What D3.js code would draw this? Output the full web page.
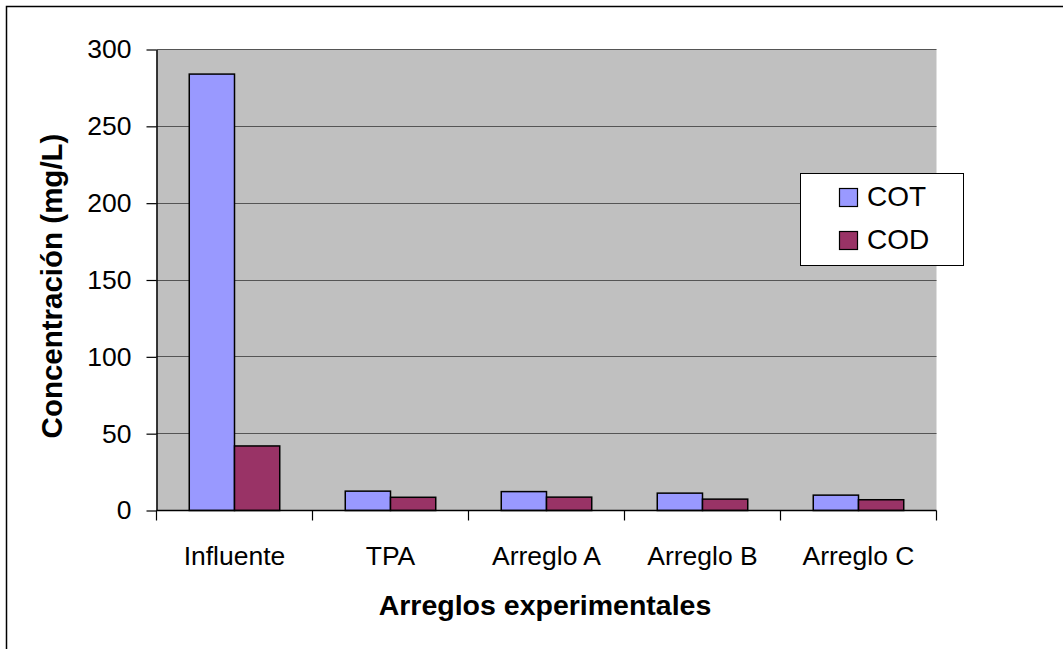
<!DOCTYPE html>
<html>
<head>
<meta charset="utf-8">
<script src="https://cdn.jsdelivr.net/npm/d3@7"></script>
<style>
  body { margin: 0; background: white; }
  svg text { font-family: "Liberation Sans", Arial, sans-serif; }
</style>
</head>
<body>
<script>
var categories = ["Influente", "TPA", "Arreglo A", "Arreglo B", "Arreglo C"];
var seriesNames = ["COT", "COD"];
var cot = [284, 12.6, 12.3, 11.3, 10];
var cod = [42, 8.6, 8.7, 7.4, 7];
var yTicks = [0, 50, 100, 150, 200, 250, 300];
var colors = ["#9999ff", "#993366"];

var width = 1063, height = 649;
var margin = { top: 49.5, right: 126.5, bottom: 138.5, left: 156.5 };
var innerW = width - margin.left - margin.right;
var innerH = height - margin.top - margin.bottom;

var svg = d3.select("body").append("svg")
    .attr("width", width)
    .attr("height", height);

// outer frame
svg.append("rect")
    .attr("x", 6.5).attr("y", 6.5)
    .attr("width", width).attr("height", height)
    .attr("fill", "white")
    .attr("stroke", "black")
    .attr("stroke-width", 1.5);

var g = svg.append("g")
    .attr("transform", "translate(" + margin.left + "," + margin.top + ")");

var x = d3.scaleBand()
    .domain(categories)
    .range([0, innerW])
    .paddingInner(0.42)
    .paddingOuter(0.21);

var x1 = d3.scaleBand()
    .domain(seriesNames)
    .range([0, x.bandwidth()]);

var y = d3.scaleLinear()
    .domain([0, 300])
    .range([innerH, 0]);

g.append("rect")
    .attr("width", innerW)
    .attr("height", innerH)
    .attr("fill", "#c0c0c0");

// gridlines
g.selectAll(".grid")
    .data(yTicks.filter(function(d) { return d > 0; }))
    .enter().append("line")
    .attr("x1", 0).attr("x2", innerW)
    .attr("y1", function(d) { return Math.round(y(d)); })
    .attr("y2", function(d) { return Math.round(y(d)); })
    .attr("stroke", "#555")
    .attr("stroke-width", 1.2);

// bars
var rows = categories.map(function(c, i) {
  return { cat: c, vals: [{ s: "COT", v: cot[i] }, { s: "COD", v: cod[i] }] };
});

var groups = g.selectAll(".grp")
    .data(rows)
    .enter().append("g")
    .attr("transform", function(d) { return "translate(" + x(d.cat) + ",0)"; });

groups.selectAll("rect")
    .data(function(d) { return d.vals; })
    .enter().append("rect")
    .attr("x", function(d) { return x1(d.s); })
    .attr("y", function(d) { return y(d.v); })
    .attr("width", x1.bandwidth())
    .attr("height", function(d) { return innerH - y(d.v); })
    .attr("fill", function(d, i) { return colors[i]; })
    .attr("stroke", "black")
    .attr("stroke-width", 1.5);

// y axis
var yAxis = g.append("g")
    .call(d3.axisLeft(y).tickValues(yTicks).tickSize(10).tickSizeOuter(0).tickPadding(15));
yAxis.attr("font-family", null).attr("font-size", null);
yAxis.select(".domain").attr("stroke", "black").attr("stroke-width", 1.5);
yAxis.selectAll("line").attr("stroke", "black").attr("stroke-width", 1.2);
yAxis.selectAll("text").style("font-size", "26.5px").attr("fill", "black");

// x axis with ticks at category boundaries
var xAxisG = g.append("g").attr("transform", "translate(0," + innerH + ")");
xAxisG.append("line")
    .attr("x1", 0).attr("x2", innerW)
    .attr("stroke", "black").attr("stroke-width", 1.5);
var step = innerW / categories.length;
xAxisG.selectAll(".xt")
    .data(d3.range(categories.length + 1))
    .enter().append("line")
    .attr("x1", function(d) { return Math.round(d * step); })
    .attr("x2", function(d) { return Math.round(d * step); })
    .attr("y1", 0).attr("y2", 10)
    .attr("stroke", "black").attr("stroke-width", 1.2);
xAxisG.selectAll(".xl")
    .data(categories)
    .enter().append("text")
    .attr("x", function(d) { return x(d) + x.bandwidth() / 2; })
    .attr("y", 54)
    .attr("text-anchor", "middle")
    .style("font-size", "26.5px")
    .text(function(d) { return d; });

// axis titles
svg.append("text")
    .attr("transform", "translate(62,286) rotate(-90)")
    .attr("text-anchor", "middle")
    .style("font-size", "29.5px")
    .style("font-weight", "bold")
    .text("Concentración (mg/L)");

svg.append("text")
    .attr("x", 545)
    .attr("y", 615)
    .attr("text-anchor", "middle")
    .style("font-size", "28.5px")
    .style("font-weight", "bold")
    .text("Arreglos experimentales");

// legend
var legend = svg.append("g").attr("transform", "translate(800.5,173.5)");
legend.append("rect")
    .attr("width", 163).attr("height", 92)
    .attr("fill", "white")
    .attr("stroke", "black")
    .attr("stroke-width", 1);
var li = legend.selectAll(".li")
    .data(seriesNames)
    .enter().append("g")
    .attr("transform", function(d, i) { return "translate(39," + (15 + i * 43) + ")"; });
li.append("rect")
    .attr("width", 18).attr("height", 18)
    .attr("fill", function(d, i) { return colors[i]; })
    .attr("stroke", "black")
    .attr("stroke-width", 1.2);
li.append("text")
    .attr("x", 27.5).attr("y", 17)
    .style("font-size", "28px")
    .text(function(d) { return d; });
</script>
</body>
</html>
